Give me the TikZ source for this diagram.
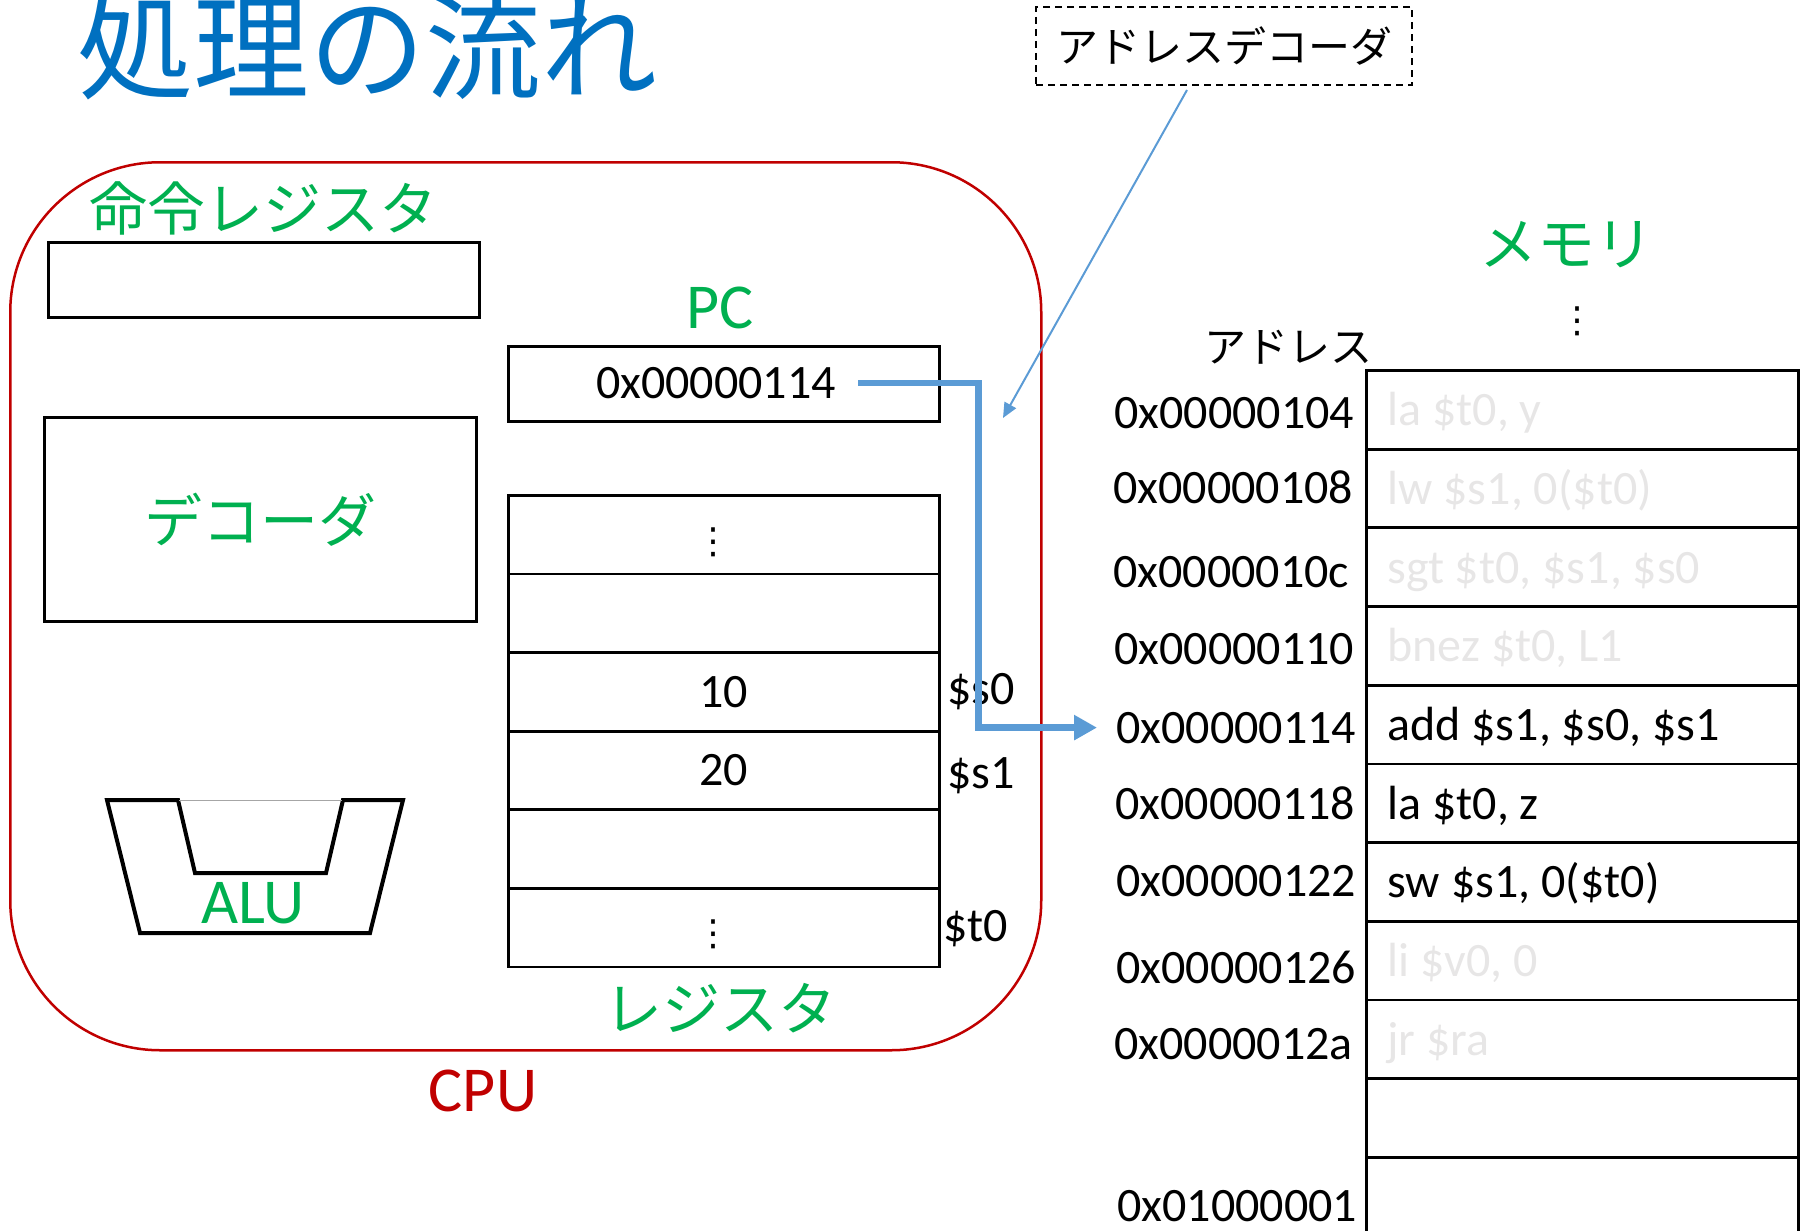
\documentclass[tikz,border=0pt]{standalone}
\usepackage{fontspec}
\setmainfont{Carlito}
\newfontfamily\jpfont{Noto Sans CJK JP}
\newfontfamily\dotfont{DejaVu Sans}
\usetikzlibrary{arrows.meta}

\definecolor{titleblue}{RGB}{0,112,192}
\definecolor{labelgreen}{RGB}{0,176,80}
\definecolor{cpured}{RGB}{192,0,0}
\definecolor{flowblue}{RGB}{91,155,213}
\definecolor{fadedgray}{RGB}{231,230,230}

\newcommand{\instr}[1]{\makebox[390pt][l]{#1}}

\tikzset{
	plainbox/.style={draw, line width=2.8pt, inner sep=0pt, anchor=north west},
	regcell/.style={draw, line width=2.8pt, anchor=north west, minimum width=431pt, minimum height=78.6pt, inner sep=0pt, font=\fontsize{48}{56}\selectfont},
	memcell/.style={draw, line width=2.8pt, anchor=north west, minimum width=432pt, minimum height=78.7pt, inner xsep=21pt, inner ysep=0pt, text height=40pt, text depth=8pt, font=\fontsize{48}{56}\selectfont},
	faded/.style={text=fadedgray},
	addr/.style={anchor=base west, inner sep=0pt, font=\fontsize{48}{56}\selectfont},
	reglabel/.style={anchor=west, inner sep=0pt, font=\fontsize{48}{56}\selectfont},
	greenlabel/.style={text=labelgreen, font=\jpfont\fontsize{58}{66}\selectfont},
	greenlatin/.style={text=labelgreen, inner sep=0pt, font=\fontsize{64}{72}\selectfont},
	blacklabel/.style={font=\jpfont\fontsize{42}{50}\selectfont},
	vdotsmark/.style={inner sep=0pt, font=\dotfont\fontsize{36}{40}\selectfont},
	pcflow/.style={draw=flowblue, line width=6.5pt, -{Triangle[length=23pt,width=24pt]}},
	hintarrow/.style={draw=flowblue, line width=2pt, -{Triangle[length=15pt,width=13pt]}}
}

\begin{document}
\begin{tikzpicture}[x=1pt,y=-1pt]
		\useasboundingbox (0,0) rectangle (1802,1231);
		
		\node[anchor=base west, inner sep=0pt, text=titleblue, font=\jpfont\fontsize{116}{130}\selectfont] at (77,90) (title) {処理の流れ};
		
		% CPU
		\node[draw=cpured, line width=2.5pt, rounded corners=150pt, anchor=north west, minimum width=1031pt, minimum height=888pt] at (9,161) (cpu) {};
		\node[text=cpured, inner sep=0pt, font=\fontsize{64}{72}\selectfont] at (483,1091) (cpulabel) {CPU};
		
		\node[greenlabel] at (263,208) (irlabel) {命令レジスタ};
		\node[plainbox, minimum width=431pt, minimum height=75pt] at (47,241) (irbox) {};
		
		\node[plainbox, greenlabel, minimum width=432pt, minimum height=204pt] at (43,416) (decoder) {デコーダ};
		
		\draw[line width=4pt] (107,800) -- (178,800) -- (195,873) -- (326,873) -- (343,800) -- (403,800) -- (370,933) -- (140,933) -- cycle;
		\draw[gray!70, line width=1pt] (179,800) -- (342,800);
		\node[greenlatin] at (253,903) (alu) {ALU};
		
		\node[greenlatin] at (720,308) (pclabel) {PC};
		\node[plainbox, minimum width=431pt, minimum height=75pt] at (507,345) (pcbox) {};
		\node[font=\fontsize{48}{56}\selectfont] at (716,383) (pcval) {0x00000114};
		
		\node[regcell] at (507,494) (reg1) {};
		\node[regcell] at (507,572.6) (reg2) {};
		\node[regcell] at (507,651.2) (reg3) {10};
		\node[regcell] at (507,729.8) (reg4) {20};
		\node[regcell] at (507,808.4) (reg5) {};
		\node[regcell] at (507,887) (reg6) {};
		\node[vdotsmark] at (713,542) (regdots1) {⋮};
		\node[vdotsmark] at (713,934) (regdots2) {⋮};
		
		\node[reglabel] at (947,692) (s0) {\$s0};
		\node[reglabel] at (947,776) (s1) {\$s1};
		\node[reglabel] at (943,929) (t0) {\$t0};
		\node[greenlabel] at (720,1008) (reglabel) {レジスタ};
		
		% memory
		\node[draw, dash pattern=on 7pt off 5pt, line width=2pt, minimum width=376pt, minimum height=78pt, blacklabel] at (1224,46) (adec) {アドレスデコーダ};
		\coordinate (adtip) at (1003,418);
		\draw[hintarrow] ([xshift=-37pt,yshift=-4pt]adec.south) -- (adtip);
		
		\node[greenlabel] at (1566,245) (memlabel) {メモリ};
		\node[vdotsmark] at (1577,321) (memdots) {⋮};
		\node[blacklabel] at (1288,347) (addrlabel) {アドレス};
		
		\node[memcell, faded] at (1365,369) (mem1) {\instr{la \$t0, y}};
		\node[memcell, faded] at (1365,447.7) (mem2) {\instr{lw \$s1, 0(\$t0)}};
		\node[memcell, faded] at (1365,526.4) (mem3) {\instr{sgt \$t0, \$s1, \$s0}};
		\node[memcell, faded] at (1365,605.1) (mem4) {\instr{bnez \$t0, L1}};
		\node[memcell] at (1365,683.8) (mem5) {\instr{add \$s1, \$s0, \$s1}};
		\node[memcell] at (1365,762.5) (mem6) {\instr{la \$t0, z}};
		\node[memcell] at (1365,841.2) (mem7) {\instr{sw \$s1, 0(\$t0)}};
		\node[memcell, faded] at (1365,919.9) (mem8) {\instr{li \$v0, 0}};
		\node[memcell, faded] at (1365,998.6) (mem9) {\instr{jr \$ra}};
		\node[memcell] at (1365,1077.3) (mem10) {\instr{}};
		\node[memcell] at (1365,1156) (mem11) {\instr{}};
		
		\node[addr] at (1114,428) (addr1) {0x00000104};
		\node[addr] at (1113,503) (addr2) {0x00000108};
		\node[addr] at (1113,587) (addr3) {0x0000010c};
		\node[addr] at (1114,664) (addr4) {0x00000110};
		\node[addr] at (1116,743) (addr5) {0x00000114};
		\node[addr] at (1115,819) (addr6) {0x00000118};
		\node[addr] at (1116,896) (addr7) {0x00000122};
		\node[addr] at (1116,983) (addr8) {0x00000126};
		\node[addr] at (1114,1059) (addr9) {0x0000012a};
		\node[addr] at (1117,1221) (addr10) {0x01000001};
		
		\draw[pcflow] ([xshift=19pt]pcval.east) -- ++(120,0) |- ([xshift=-19pt]addr5.west);
		\end{tikzpicture}
\end{document}
